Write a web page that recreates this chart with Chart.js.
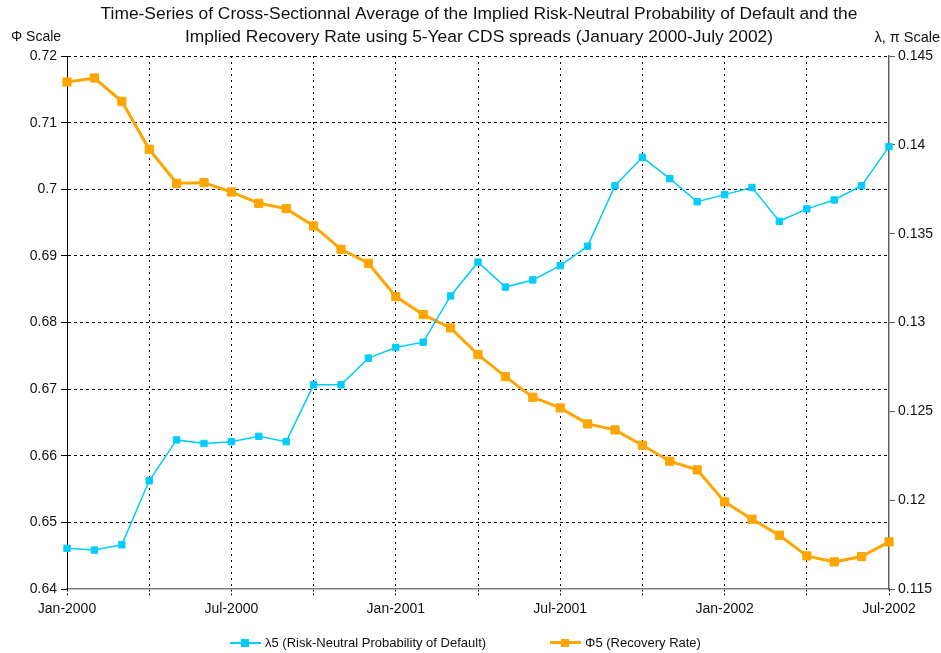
<!DOCTYPE html>
<html>
<head>
<meta charset="utf-8">
<script src="https://cdn.jsdelivr.net/npm/chart.js@4.4.1/dist/chart.umd.min.js"></script>
<style>
  html, body { margin: 0; padding: 0; background: #fff; }
  #wrap { position: relative; width: 941px; height: 653px; }
  #legend {
    position: absolute; left: 230px; top: 635px;
    display: flex; align-items: center;
    font: 13px "Liberation Sans", Arial, sans-serif; color: #111;
  }
  #legend .item { display: flex; align-items: center; margin-right: 64px; white-space: nowrap; }
  #legend .mark { position: relative; width: 31px; margin-right: 4px; }
  #legend .mark i { position: absolute; left: 11px; width: 8px; height: 8px; }
</style>
</head>
<body>
<div id="wrap">
  <canvas id="chart" width="941" height="653"></canvas>
  <div id="legend"></div>
</div>
<script>
const months = [
  'Jan-2000','Feb-2000','Mar-2000','Apr-2000','May-2000','Jun-2000','Jul-2000','Aug-2000','Sep-2000','Oct-2000','Nov-2000','Dec-2000',
  'Jan-2001','Feb-2001','Mar-2001','Apr-2001','May-2001','Jun-2001','Jul-2001','Aug-2001','Sep-2001','Oct-2001','Nov-2001','Dec-2001',
  'Jan-2002','Feb-2002','Mar-2002','Apr-2002','May-2002','Jun-2002','Jul-2002'
];

// λ5, right axis
const lambda5 = [
  0.1173, 0.1172, 0.1175, 0.1211, 0.1234, 0.1232, 0.1233, 0.1236, 0.1233, 0.1265, 0.1265, 0.1280,
  0.1286, 0.1289, 0.1315, 0.1334, 0.1320, 0.1324, 0.1332, 0.1343, 0.1377, 0.1393, 0.1381, 0.1368,
  0.1372, 0.1376, 0.1357, 0.1364, 0.1369, 0.1377, 0.1399
];

// Φ5, left axis
const phi5 = [
  0.7161, 0.7167, 0.7132, 0.7060, 0.7009, 0.7010, 0.6996, 0.6979, 0.6971, 0.6945, 0.6910, 0.6889,
  0.6839, 0.6812, 0.6792, 0.6752, 0.6719, 0.6688, 0.6672, 0.6648, 0.6639, 0.6616, 0.6592, 0.6579,
  0.6531, 0.6505, 0.6481, 0.6450, 0.6441, 0.6449, 0.6471
];

const seriesNames = ['λ5 (Risk-Neutral Probability of Default)', 'Φ5 (Recovery Rate)'];
const titleLines = [
  'Time-Series of Cross-Sectionnal Average of the Implied Risk-Neutral Probability of Default and the',
  'Implied Recovery Rate using 5-Year CDS spreads (January 2000-July 2002)'
];

const FONT = '"Liberation Sans", Arial, sans-serif';
Chart.defaults.font.family = FONT;
Chart.defaults.color = '#111';

// axis captions above each y axis
const axisCaptions = {
  id: 'axisCaptions',
  afterDraw(chart) {
    const ctx = chart.ctx;
    ctx.save();
    ctx.fillStyle = '#111';
    ctx.textBaseline = 'middle';
    ctx.font = '14px ' + FONT;
    ctx.textAlign = 'left';
    ctx.fillText('Φ Scale', 11, 37);
    ctx.font = '14.5px ' + FONT;
    ctx.textAlign = 'right';
    ctx.fillText('λ, π Scale', 940, 38);
    ctx.restore();
  }
};

const chart = new Chart(document.getElementById('chart'), {
  type: 'line',
  data: {
    labels: months,
    datasets: [
      {
        label: seriesNames[0],
        data: lambda5,
        yAxisID: 'y1',
        borderColor: '#00CCFF',
        backgroundColor: '#00CCFF',
        borderWidth: 1.5,
        pointStyle: 'rect',
        pointRadius: 4.5,
        pointBorderWidth: 1,
        clip: false
      },
      {
        label: seriesNames[1],
        data: phi5,
        yAxisID: 'y',
        borderColor: '#FFA500',
        backgroundColor: '#FFA500',
        borderWidth: 3,
        pointStyle: 'rect',
        pointRadius: 5.8,
        pointBorderWidth: 1,
        clip: false
      }
    ]
  },
  options: {
    responsive: false,
    animation: false,
    layout: { padding: { left: 17, right: 0, top: 0, bottom: 29 } },
    plugins: {
      legend: { display: false },
      tooltip: { enabled: false },
      title: {
        display: true,
        text: titleLines,
        color: '#111',
        font: { size: 17.4, weight: 'normal', lineHeight: 23 / 17.4 },
        padding: { top: 3, bottom: 7 }
      }
    },
    scales: {
      x: {
        ticks: {
          autoSkip: false, maxRotation: 0, minRotation: 0, padding: 6,
          font: { size: 14 }, color: '#111',
          callback(v, i) { return i % 6 === 0 ? this.getLabelForValue(v) : ''; }
        },
        grid: {
          color: c => (c.index % 3 === 0 && c.index > 0 && c.index < months.length - 1) ? '#000' : 'transparent',
          tickColor: c => c.index % 3 === 0 ? '#000' : 'transparent',
          tickLength: 6,
          tickBorderDash: [2, 2],
          lineWidth: 1
        },
        border: { color: '#808080', width: 1.5, dash: [2, 4] }
      },
      y: {
        position: 'left',
        min: 0.64, max: 0.72,
        afterFit(s) { s.width = 50; },
        ticks: {
          stepSize: 0.01, padding: 4, font: { size: 14 }, color: '#111',
          callback: v => String(+v.toFixed(2))
        },
        grid: {
          color: c => c.tick && c.tick.value <= 0.6401 ? 'transparent' : '#000',
          tickColor: '#000',
          tickLength: 6,
          lineWidth: 1
        },
        border: { color: '#000', width: 1, dash: [3, 3] }
      },
      y1: {
        position: 'right',
        min: 0.115, max: 0.145,
        afterFit(s) { s.width = 52; },
        ticks: {
          stepSize: 0.005, padding: 3, font: { size: 14 }, color: '#111',
          callback: v => String(+v.toFixed(3))
        },
        grid: { drawOnChartArea: false, tickColor: '#555', tickLength: 6 },
        border: { color: '#606060', width: 1.5 }
      }
    }
  },
  plugins: [axisCaptions]
});

// html legend built from the datasets
const legendEl = document.getElementById('legend');
chart.data.datasets.forEach(ds => {
  const item = document.createElement('div');
  item.className = 'item';
  const mark = document.createElement('span');
  mark.className = 'mark';
  const lw = Math.max(2, ds.borderWidth);
  mark.style.height = lw + 'px';
  mark.style.background = ds.borderColor;
  const sq = document.createElement('i');
  sq.style.background = ds.backgroundColor;
  sq.style.top = (lw / 2 - 4) + 'px';
  mark.appendChild(sq);
  const txt = document.createElement('span');
  txt.textContent = ds.label;
  item.appendChild(mark);
  item.appendChild(txt);
  legendEl.appendChild(item);
});
</script>
</body>
</html>
